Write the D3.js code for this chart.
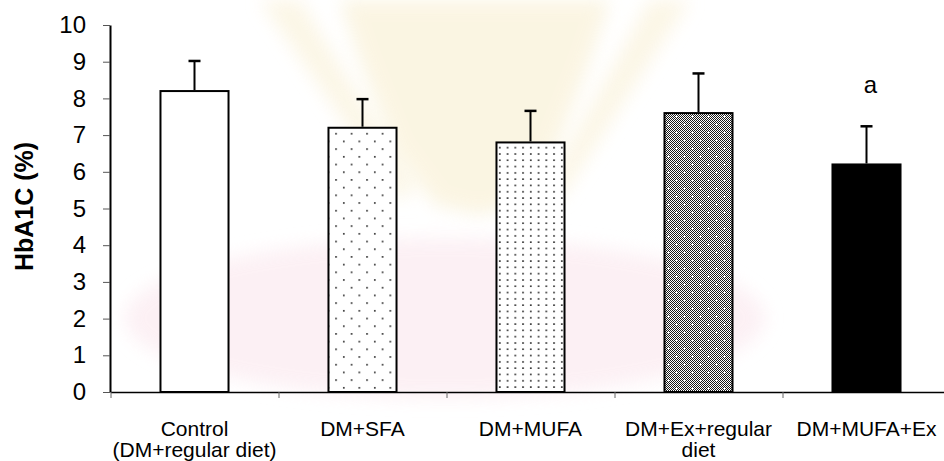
<!DOCTYPE html>
<html>
<head>
<meta charset="utf-8">
<script src="https://cdn.jsdelivr.net/npm/d3@7"></script>
<style>
  body { margin: 0; background: #fff; }
  svg { display: block; font-family: "Liberation Sans", Arial, Helvetica, sans-serif; }
</style>
</head>
<body>
<svg id="chart" width="944" height="461"></svg>
<script>
// Groups, mean HbA1C (%) and upper error (SE) for each group
const categories = ["Control", "DM+SFA", "DM+MUFA", "DM+Ex+regular diet", "DM+MUFA+Ex"];
const labelLines = [["Control", "(DM+regular diet)"], ["DM+SFA"], ["DM+MUFA"], ["DM+Ex+regular", "diet"], ["DM+MUFA+Ex"]];
const means = [8.2, 7.2, 6.8, 7.6, 6.2];
const errors = [0.82, 0.78, 0.86, 1.08, 1.04];
const significance = ["", "", "", "", "a"];
const yTicks = [0, 1, 2, 3, 4, 5, 6, 7, 8, 9, 10];
const fills = ["#ffffff", "url(#dotsSparse)", "url(#dotsDense)", "url(#checkCross)", "#000000"];

const svg = d3.select("#chart");
const defs = svg.append("defs");

// ---- faint, softened background emblem ----
defs.append("filter").attr("id", "soft").attr("x", "-20%").attr("y", "-20%").attr("width", "140%").attr("height", "140%")
  .append("feGaussianBlur").attr("stdDeviation", 9);
const bg = svg.append("g").attr("class", "emblem").attr("filter", "url(#soft)").attr("opacity", 0.8);
bg.append("ellipse").attr("cx", 445).attr("cy", 318).attr("rx", 320).attr("ry", 80)
  .attr("fill", "#fcedf2");
bg.append("path")
  .attr("d", "M340,0 L610,0 L590,60 L555,150 L515,205 L480,215 L435,205 L395,150 L360,60 Z")
  .attr("fill", "#faf3dc");
bg.append("path").attr("d", "M260,0 L300,0 L415,190 L398,200 Z").attr("fill", "#fbf4e0");
bg.append("path").attr("d", "M650,0 L690,0 L560,200 L545,190 Z").attr("fill", "#fbf4e0");

// ---- fill patterns ----
const sparse = defs.append("pattern").attr("id", "dotsSparse")
  .attr("patternUnits", "userSpaceOnUse").attr("width", 15.5).attr("height", 15.4);
sparse.append("rect").attr("width", 15.5).attr("height", 15.4).attr("fill", "#fff");
[[2, 2], [9.75, 9.7]].forEach(([px, py]) =>
  sparse.append("rect").attr("x", px).attr("y", py).attr("width", 1.6).attr("height", 1.6).attr("fill", "#222"));

const dense = defs.append("pattern").attr("id", "dotsDense")
  .attr("patternUnits", "userSpaceOnUse").attr("width", 7.75).attr("height", 6.3);
dense.append("rect").attr("width", 7.75).attr("height", 6.3).attr("fill", "#fff");
dense.append("rect").attr("x", 3).attr("y", 2).attr("width", 1.6).attr("height", 1.6).attr("fill", "#222");

// 1px checkerboard with white crosses on a staggered grid
const tile = 16;
const cc = defs.append("pattern").attr("id", "checkCross")
  .attr("patternUnits", "userSpaceOnUse").attr("width", tile).attr("height", tile);
cc.append("rect").attr("width", tile).attr("height", tile).attr("fill", "#fff");
const pix = [];
for (let i = 0; i < tile; i++) for (let j = 0; j < tile; j++) if ((i + j) % 2 === 0) pix.push([i, j]);
cc.selectAll("rect.px").data(pix).join("rect").attr("class", "px")
  .attr("x", d => d[0]).attr("y", d => d[1]).attr("width", 1).attr("height", 1)
  .attr("fill", "#1a1a1a").attr("shape-rendering", "crispEdges");
[[4, 4], [12, 12]].forEach(([px, py]) => {
  cc.append("rect").attr("x", px - 1).attr("y", py).attr("width", 3).attr("height", 1).attr("fill", "#fff").attr("shape-rendering", "crispEdges");
  cc.append("rect").attr("x", px).attr("y", py - 1).attr("width", 1).attr("height", 3).attr("fill", "#fff").attr("shape-rendering", "crispEdges");
});

// ---- scales ----
const x0 = 110.5, x1 = 950.5;
const slot = d3.scaleBand().domain(categories).range([x0, x1]).padding(0);
const barW = slot.bandwidth() * 0.405;
const xEdge = d3.scaleLinear().domain([0, categories.length]).range([x0, x1]);
const y = d3.scaleLinear().domain([0, 10]).range([392, 25]);

// ---- bars ----
const g = svg.append("g");
g.selectAll("rect.bar").data(categories).join("rect")
  .attr("class", "bar")
  .attr("x", d => slot(d) + (slot.bandwidth() - barW) / 2)
  .attr("width", barW)
  .attr("y", (d, i) => y(means[i]))
  .attr("height", (d, i) => y(0) - y(means[i]))
  .attr("fill", (d, i) => fills[i])
  .attr("stroke", "#000")
  .attr("stroke-width", 2);

// ---- error bars (upper only) ----
const cx = d => slot(d) + slot.bandwidth() / 2;
g.selectAll("line.err").data(categories).join("line")
  .attr("class", "err")
  .attr("x1", cx).attr("x2", cx)
  .attr("y1", (d, i) => y(means[i]) - 1)
  .attr("y2", (d, i) => y(means[i] + errors[i]))
  .attr("stroke", "#000").attr("stroke-width", 2);
g.selectAll("line.cap").data(categories).join("line")
  .attr("class", "cap")
  .attr("x1", d => cx(d) - 6).attr("x2", d => cx(d) + 6)
  .attr("y1", (d, i) => y(means[i] + errors[i]))
  .attr("y2", (d, i) => y(means[i] + errors[i]))
  .attr("stroke", "#000").attr("stroke-width", 2.5);

// significance marks
g.selectAll("text.sig").data(categories).join("text")
  .attr("class", "sig")
  .attr("x", d => cx(d) + 4)
  .attr("y", (d, i) => y(means[i] + errors[i]) - 33)
  .attr("text-anchor", "middle")
  .attr("font-size", 24)
  .attr("fill", "#000")
  .text((d, i) => significance[i]);

// ---- y axis ----
const yAxis = svg.append("g").attr("transform", "translate(110,0)")
  .call(d3.axisLeft(y).tickValues(yTicks).tickSize(7).tickSizeOuter(0).tickPadding(17).tickFormat(d3.format("d")));
yAxis.select(".domain").attr("stroke", "#000").attr("stroke-width", 2);
yAxis.selectAll(".tick line").attr("stroke", "#555").attr("stroke-width", 1);
yAxis.selectAll(".tick text").attr("font-size", 24).attr("font-family", "Liberation Sans, Arial, sans-serif").attr("fill", "#000");

// ---- x axis ----
const xAxis = svg.append("g").attr("transform", "translate(0,392)")
  .call(d3.axisBottom(xEdge).tickValues(d3.range(categories.length + 1)).tickSize(6).tickSizeOuter(0).tickFormat(""));
xAxis.select(".domain").attr("stroke", "#000").attr("stroke-width", 1.5);
xAxis.selectAll(".tick line").attr("stroke", "#666").attr("stroke-width", 1);

// category labels
const lab = svg.append("g").selectAll("text.cat").data(categories).join("text")
  .attr("class", "cat")
  .attr("text-anchor", "middle")
  .attr("font-size", 21)
  .attr("fill", "#000");
lab.each(function (d, i) {
  d3.select(this).selectAll("tspan").data(labelLines[i]).join("tspan")
    .attr("x", cx(d))
    .attr("y", (t, j) => 436 + j * 21)
    .text(t => t);
});

// y axis title
svg.append("text")
  .attr("transform", "translate(33,206.5) rotate(-90)")
  .attr("text-anchor", "middle")
  .attr("font-size", 25)
  .attr("font-weight", "bold")
  .attr("fill", "#000")
  .text("HbA1C (%)");
</script>
</body>
</html>
